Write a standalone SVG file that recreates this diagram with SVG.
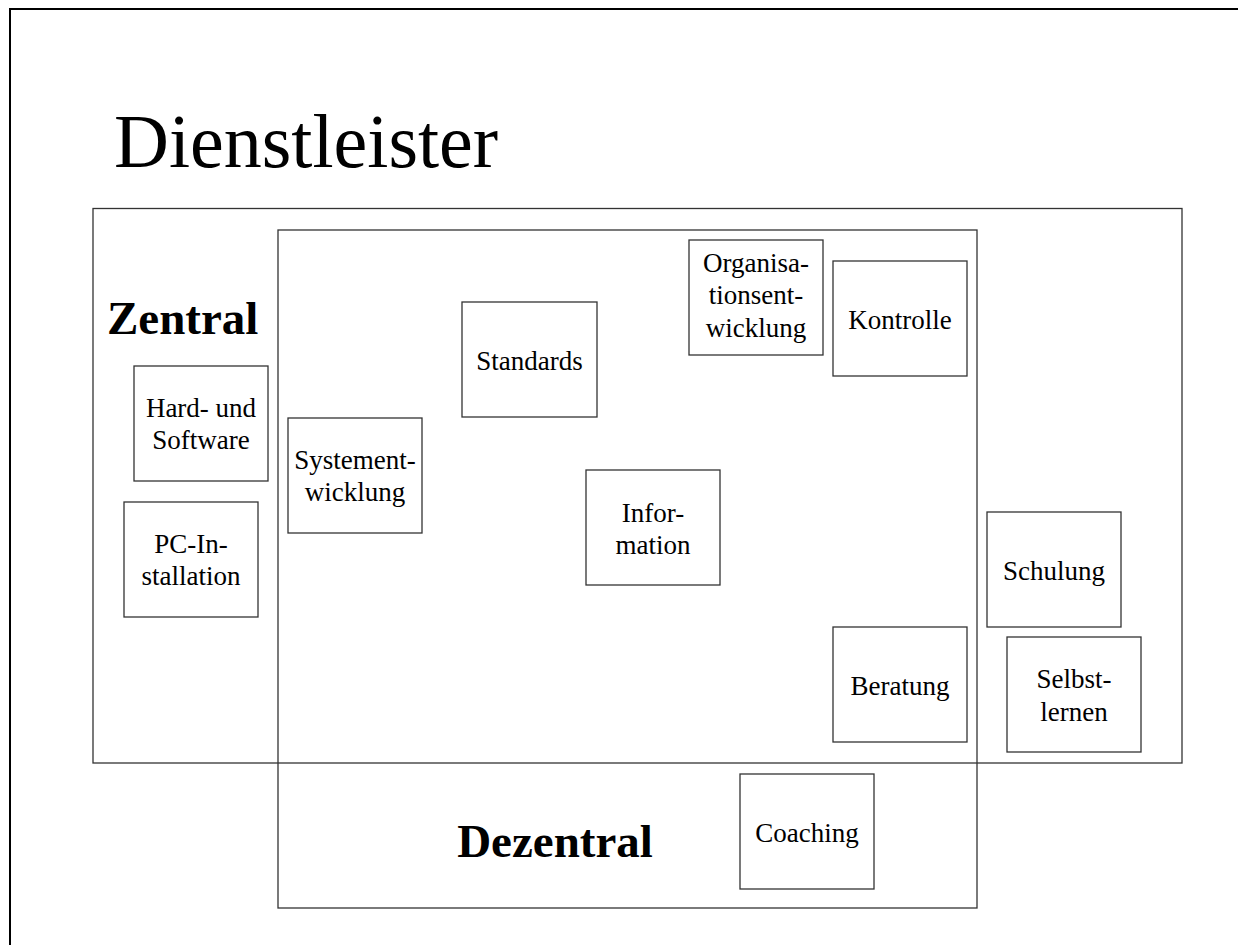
<svg xmlns="http://www.w3.org/2000/svg" width="1238" height="945" viewBox="0 0 1238 945">
<style>
.frame{fill:none;stroke:#000;stroke-width:2}
.area{fill:none;stroke:#333;stroke-width:1.3}
.box{fill:#fff;stroke:#333;stroke-width:1.3}
.t{font-family:"Liberation Serif","Times New Roman",serif;font-size:27px;fill:#000;text-anchor:middle}
.h{font-family:"Liberation Serif","Times New Roman",serif;font-size:47px;font-weight:bold;fill:#000}
.title{font-family:"Liberation Serif","Times New Roman",serif;font-size:76px;fill:#000}
</style>
<rect class="frame" x="10" y="9" width="1300" height="1000"/>
<text class="title" x="114" y="167">Dienstleister</text>
<g id="zentral">
<rect class="area" x="93" y="208.5" width="1089" height="554.5"/>
<text class="h" x="107" y="334">Zentral</text>
</g>
<g id="dezentral">
<rect class="area" x="278" y="230" width="699" height="678"/>
<text class="h" x="555" y="857" text-anchor="middle">Dezentral</text>
</g>
<g id="hardware"><rect class="box" x="134" y="366" width="134" height="115"/><text class="t" x="201" y="417">Hard- und</text><text class="t" x="201" y="449">Software</text></g>
<g id="pc"><rect class="box" x="124" y="502" width="134" height="115"/><text class="t" x="191" y="553">PC-In-</text><text class="t" x="191" y="585">stallation</text></g>
<g id="systementwicklung"><rect class="box" x="288" y="418" width="134" height="115"/><text class="t" x="355" y="469">Systement-</text><text class="t" x="355" y="501">wicklung</text></g>
<g id="standards"><rect class="box" x="462" y="302" width="135" height="115"/><text class="t" x="529.5" y="370">Standards</text></g>
<g id="organisation"><rect class="box" x="689" y="240" width="134" height="115"/><text class="t" x="756" y="272">Organisa-</text><text class="t" x="756" y="304">tionsent-</text><text class="t" x="756" y="337">wicklung</text></g>
<g id="kontrolle"><rect class="box" x="833" y="261" width="134" height="115"/><text class="t" x="900" y="329">Kontrolle</text></g>
<g id="information"><rect class="box" x="586" y="470" width="134" height="115"/><text class="t" x="653" y="522">Infor-</text><text class="t" x="653" y="554">mation</text></g>
<g id="beratung"><rect class="box" x="833" y="627" width="134" height="115"/><text class="t" x="900" y="695">Beratung</text></g>
<g id="schulung"><rect class="box" x="987" y="512" width="134" height="115"/><text class="t" x="1054" y="580">Schulung</text></g>
<g id="selbstlernen"><rect class="box" x="1007" y="637" width="134" height="115"/><text class="t" x="1074" y="688">Selbst-</text><text class="t" x="1074" y="721">lernen</text></g>
<g id="coaching"><rect class="box" x="740" y="774" width="134" height="115"/><text class="t" x="807" y="842">Coaching</text></g>
<g id="connectors"></g>
</svg>
